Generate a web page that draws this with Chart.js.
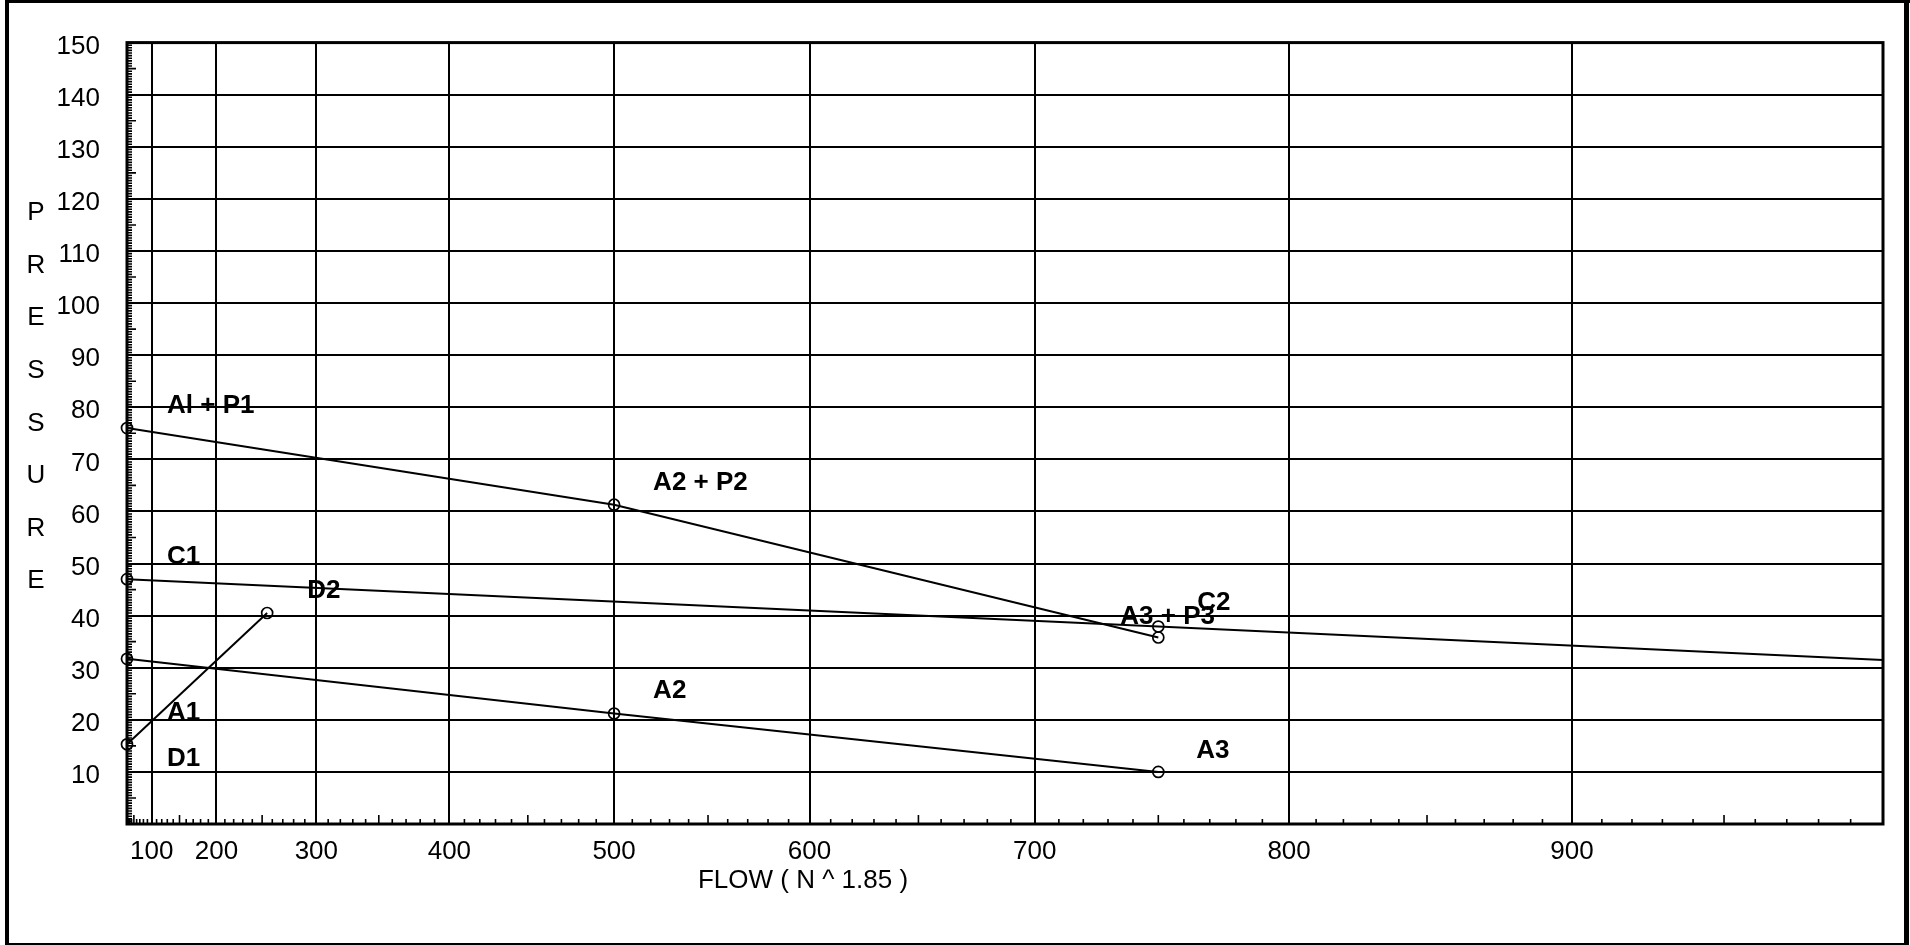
<!DOCTYPE html>
<html>
<head>
<meta charset="utf-8">
<title>Pressure / flow graph</title>
<script src="https://cdn.jsdelivr.net/npm/chart.js@4.4.1/dist/chart.umd.min.js"></script>
<style>
    html, body { margin: 0; padding: 0; background: #fff; }
</style>
</head>
<body>
<canvas id="myChart" width="1910" height="945"></canvas>
<script>
// flow is plotted on N^1.85 paper, pressure is linear
const EXPONENT = 1.85;

const flowTicks = [100, 200, 300, 400, 500, 600, 700, 800, 900];
const pressureTicks = [10, 20, 30, 40, 50, 60, 70, 80, 90, 100, 110, 120, 130, 140, 150];

// A + P line
const apFlow = [0, 500, 750];
const apPressure = [76, 61.3, 35.8];
const apLabels = ['Al + P1', 'A2 + P2', 'A3 + P3'];

// C line (runs on to the right edge)
const cFlow = [0, 750, 1000];
const cPressure = [47, 37.9, 31.5];
const cLabels = ['C1', 'C2', ''];

// A line
const aFlow = [0, 500, 750];
const aPressure = [31.7, 21.2, 10];
const aLabels = ['A1', 'A2', 'A3'];

// D line
const dFlow = [0, 255];
const dPressure = [15.3, 40.5];
const dLabels = ['D1', 'D2'];

const xTitle = 'FLOW ( N ^ 1.85 )';
const yTitle = 'PRESSURE';

const FONT = '"Liberation Sans", Arial, Helvetica, sans-serif';

// pixel offsets of each point label from its point (style only)
const labelOffsets = {
    ap: [[40, -22], [39, -22], [-38, -21]],
    c: [[40, -22], [39, -24], [0, 0]],
    a: [[40, 54], [39, -23], [38, -21]],
    d: [[40, 15], [40, -22]]
};

class HydraulicScale extends Chart.LinearScale {
    getPixelForValue(value) {
        const t = Math.pow(Math.max(value - this.min, 0) / (this.max - this.min), EXPONENT);
        return this.getPixelForDecimal(t);
    }
    getValueForPixel(pixel) {
        return this.min + (this.max - this.min) * Math.pow(this.getDecimalForPixel(pixel), 1 / EXPONENT);
    }
}
HydraulicScale.id = 'hydraulic';
HydraulicScale.defaults = Chart.LinearScale.defaults;
Chart.register(HydraulicScale);

function toPoints(flow, pressure) {
    return flow.map((q, i) => ({ x: q, y: pressure[i] }));
}

function lineSet(key, flow, pressure, labels, radius) {
    return {
        key: key,
        labels: labels,
        data: toPoints(flow, pressure),
        showLine: true,
        clip: false,
        borderColor: '#000',
        borderWidth: 2,
        pointRadius: radius || 5.5,
        pointBorderWidth: 1.7,
        pointBorderColor: '#000',
        pointBackgroundColor: 'rgba(0,0,0,0)',
        pointStyle: 'circle'
    };
}

const paperPlugin = {
    id: 'paper',
    beforeDatasetsDraw(chart) {
        const ctx = chart.ctx;
        const area = chart.chartArea;
        const x = chart.scales.x;
        const y = chart.scales.y;
        ctx.save();
        ctx.strokeStyle = '#000';
        ctx.lineWidth = 1.6;
        ctx.beginPath();
        // ruler ticks along the flow axis, every 10
        for (let q = 10; q < 1000; q += 10) {
            if (q % 100 === 0) continue;
            const len = q % 50 === 0 ? 9 : 5;
            const px = x.getPixelForValue(q);
            ctx.moveTo(px, area.bottom);
            ctx.lineTo(px, area.bottom - len);
        }
        // ruler ticks along the pressure axis, every 0.5
        for (let i = 1; i < 300; i++) {
            const p = i / 2;
            if (p % 10 === 0) continue;
            const len = p % 5 === 0 ? 9 : 5;
            const py = y.getPixelForValue(p);
            ctx.moveTo(area.left, py);
            ctx.lineTo(area.left + len, py);
        }
        ctx.stroke();

        // heavy plot border, under the lines and circles
        ctx.lineWidth = 3;
        ctx.strokeRect(area.left, area.top, area.right - area.left, area.bottom - area.top);
        ctx.restore();
    },
    afterDatasetsDraw(chart) {
        const ctx = chart.ctx;
        ctx.save();

        // point labels
        ctx.fillStyle = '#000';
        ctx.font = 'bold 26px ' + FONT;
        ctx.textAlign = 'left';
        ctx.textBaseline = 'middle';
        chart.data.datasets.forEach((ds, di) => {
            const meta = chart.getDatasetMeta(di);
            meta.data.forEach((pt, i) => {
                const txt = ds.labels[i];
                if (!txt) return;
                const off = labelOffsets[ds.key][i];
                ctx.fillText(txt, pt.x + off[0], pt.y + off[1]);
            });
        });

        // axis titles
        ctx.font = '26px ' + FONT;
        ctx.textAlign = 'center';
        ctx.fillText(xTitle, 803, 881);
        for (let i = 0; i < yTitle.length; i++) {
            ctx.fillText(yTitle[i], 36, 213 + i * 52.6);
        }

        // page frame
        ctx.fillRect(5, 0, 4, 945);
        ctx.fillRect(5, 0, 1905, 3);
        ctx.fillRect(1904, 0, 5, 945);
        ctx.fillRect(5, 943, 1904, 2);
        ctx.restore();
    }
};

const ctx = document.getElementById('myChart').getContext('2d');
const chartInstance = new Chart(ctx, {
    type: 'scatter',
    data: {
        datasets: [
            lineSet('ap', apFlow, apPressure, apLabels),
            lineSet('c', cFlow, cPressure, cLabels, [5.5, 5.5, 0]),
            lineSet('a', aFlow, aPressure, aLabels),
            lineSet('d', dFlow, dPressure, dLabels)
        ]
    },
    options: {
        responsive: false,
        animation: false,
        layout: {
            padding: { left: 0, right: 27, top: 39, bottom: 0 }
        },
        plugins: {
            legend: { display: false },
            tooltip: { enabled: false }
        },
        scales: {
            x: {
                type: 'hydraulic',
                min: 0,
                max: 1000,
                afterBuildTicks: function (scale) {
                    scale.ticks = [0].concat(flowTicks, [1000]).map(v => ({ value: v }));
                },
                afterFit: function (scale) { scale.height = 121; },
                grid: { color: '#000', lineWidth: 2, drawTicks: false },
                border: { display: false },
                ticks: {
                    color: '#000',
                    padding: 12,
                    maxRotation: 0,
                    autoSkip: false,
                    font: { family: FONT, size: 26 },
                    callback: v => flowTicks.includes(v) ? String(v) : ''
                }
            },
            y: {
                type: 'linear',
                min: 0,
                max: 150,
                afterBuildTicks: function (scale) {
                    scale.ticks = [0].concat(pressureTicks).map(v => ({ value: v }));
                },
                afterFit: function (scale) { scale.width = 127; },
                grid: { color: '#000', lineWidth: 2, drawTicks: false },
                border: { display: false },
                ticks: {
                    color: '#000',
                    padding: 27,
                    labelOffset: 4,
                    autoSkip: false,
                    font: { family: FONT, size: 26 },
                    callback: v => pressureTicks.includes(v) ? String(v) : ''
                }
            }
        }
    },
    plugins: [paperPlugin]
});
</script>
</body>
</html>
